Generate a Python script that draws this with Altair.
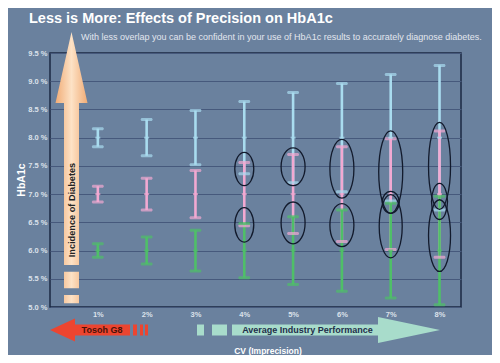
import altair as alt
import pandas as pd

# ---------------- data ----------------
cv = [1, 2, 3, 4, 5, 6, 7, 8]
cv_ticks = [1, 2, 3, 4, 5, 6, 7, 8]
y_ticks = [5.0, 5.5, 6.0, 6.5, 7.0, 7.5, 8.0, 8.5, 9.0, 9.5]

series = ["cyan", "pink", "green"]
cyan_mean = [8.0, 8.0, 8.0, 8.0, 8.0, 8.0, 8.0, 8.0]
cyan_lo = [7.84, 7.68, 7.52, 7.36, 7.20, 7.04, 6.88, 6.72]
cyan_hi = [8.16, 8.32, 8.48, 8.64, 8.80, 8.96, 9.12, 9.28]
pink_mean = [7.0, 7.0, 7.0, 7.0, 7.0, 7.0, 7.0, 7.0]
pink_lo = [6.86, 6.72, 6.58, 6.44, 6.30, 6.16, 6.02, 5.88]
pink_hi = [7.14, 7.28, 7.42, 7.56, 7.70, 7.84, 7.98, 8.12]
green_mean = [6.0, 6.0, 6.0, 6.0, 6.0, 6.0, 6.0, 6.0]
green_lo = [5.88, 5.76, 5.64, 5.52, 5.40, 5.28, 5.16, 5.04]
green_hi = [6.12, 6.24, 6.36, 6.48, 6.60, 6.72, 6.84, 6.96]

# overlap ellipses: position, vertical extent (data), width (px)
ell_cv = [4, 4, 5, 5, 6, 6, 7, 7, 7, 8, 8, 8]
ell_lo = [7.15, 6.15, 7.15, 6.12, 6.93, 6.07, 6.66, 6.66, 5.87, 6.73, 6.55, 5.63]
ell_hi = [7.74, 6.76, 7.82, 6.86, 7.97, 6.83, 8.12, 7.05, 6.99, 8.27, 7.19, 6.90]
ell_w = [19, 19, 24, 24, 24, 24, 24, 17, 23, 22, 16, 22]

title_text = "Less is More: Effects of Precision on HbA1c"
subtitle_text = ("With less overlap you can be confident in your use of HbA1c "
                 "results to accurately diagnose diabetes.")

# ---------------- tables ----------------
rows = []
for name, m, lo, hi in [("cyan", cyan_mean, cyan_lo, cyan_hi),
                        ("pink", pink_mean, pink_lo, pink_hi),
                        ("green", green_mean, green_lo, green_hi)]:
    for i, c in enumerate(cv):
        rows.append({"cv": c, "series": name, "mean": m[i], "lo": lo[i], "hi": hi[i]})
df = pd.DataFrame(rows)

W, H = 411, 254
Y_DOM = [5.0, 9.5]
X_DOM = [0.02, 8.44]
px_per_unit = H / (Y_DOM[1] - Y_DOM[0])

ell = pd.DataFrame({"cv": ell_cv, "lo": ell_lo, "hi": ell_hi, "w": ell_w})
ell["mid"] = (ell["lo"] + ell["hi"]) / 2
def ellipse_path(rx, ry):
    return (f"M{-rx:.2f},0 A{rx:.2f},{ry:.2f} 0 1,0 {rx:.2f},0 "
            f"A{rx:.2f},{ry:.2f} 0 1,0 {-rx:.2f},0 Z")
ell["path"] = [ellipse_path(w / 2, (h - l) / 2 * px_per_unit)
               for w, l, h in zip(ell["w"], ell["lo"], ell["hi"])]

color_scale = alt.Scale(domain=series, range=["#a9dcef", "#f2a9d2", "#4fbf68"])
mean_scale = alt.Scale(domain=series, range=["#e6f6fc", "#fbe3f0", "#b9ecc4"])

xs = alt.Scale(domain=X_DOM, nice=False, zero=False)
ys = alt.Scale(domain=Y_DOM, nice=False, zero=False)

x_axis = alt.Axis(values=cv_ticks, labelExpr="datum.value + '%'", grid=False,
                  domain=False, ticks=False, labelPadding=3, title=None,
                  labelOverlap=False)
y_axis = alt.Axis(values=y_ticks, labelExpr="format(datum.value, '.1f') + ' %'",
                  grid=True, gridColor="#46597c", gridWidth=1, domain=False,
                  ticks=False, labelPadding=3, title=None, labelOverlap=False)

def X(f):
    return alt.X(f, scale=xs, axis=x_axis)

def Y(f):
    return alt.Y(f, scale=ys, axis=y_axis)

base = alt.Chart(df)

bars = base.mark_rule(strokeWidth=2.6).encode(
    x=X("cv:Q"), y=Y("lo:Q"), y2="hi:Q",
    color=alt.Color("series:N", scale=color_scale, legend=None),
)
caps_lo = base.mark_tick(orient="horizontal", size=12, thickness=3, cornerRadius=1.5).encode(
    x=X("cv:Q"), y=Y("lo:Q"),
    color=alt.Color("series:N", scale=color_scale, legend=None),
)
caps_hi = base.mark_tick(orient="horizontal", size=12, thickness=3, cornerRadius=1.5).encode(
    x=X("cv:Q"), y=Y("hi:Q"),
    color=alt.Color("series:N", scale=color_scale, legend=None),
)
means = base.mark_tick(orient="horizontal", size=5, thickness=2).encode(
    x=X("cv:Q"), y=Y("mean:Q"),
    color=alt.Color("series:N", scale=mean_scale, legend=None),
)

ellipses = alt.Chart(ell).mark_point(filled=False, size=4, color="#121a2c",
                                     strokeWidth=1.3, opacity=1).encode(
    x=X("cv:Q"), y=Y("mid:Q"),
    shape=alt.Shape("path:N", scale=None),
)

one = pd.DataFrame({"t": [""]})

def deco(path, x, y, fill):
    return alt.Chart(one).mark_point(shape=path, size=4, filled=True, fill=fill,
                                     strokeWidth=0, opacity=1).encode(
        x=alt.value(x), y=alt.value(y))

def label(text, x, y, size, color, weight="bold", font="Liberation Sans",
          angle=0, align="center", baseline="middle"):
    return alt.Chart(pd.DataFrame({"t": [text]})).mark_text(
        fontSize=size, color=color, fontWeight=weight, font=font, angle=angle,
        align=align, baseline=baseline).encode(
        x=alt.value(x), y=alt.value(y), text="t:N")

orange_grad = alt.Gradient(gradient="linear", x1=0, x2=1, y1=0, y2=0,
                           stops=[alt.GradientStop(color="#f1ac76", offset=0),
                                  alt.GradientStop(color="#fde2c6", offset=0.5),
                                  alt.GradientStop(color="#f1ac76", offset=1)])
up_arrow = deco("M0,-121 L16,-50 L7.5,-50 L7.5,112 L-7.5,112 L-7.5,-50 L-16,-50 Z "
                "M-7.5,118.7 L7.5,118.7 L7.5,135.3 L-7.5,135.3 Z "
                "M-7.5,142 L7.5,142 L7.5,150.3 L-7.5,150.3 Z",
                21.5, 100, orange_grad)
red_arrow = deco("M0,0 L25,-11.5 L25,-5.5 L80,-5.5 L80,5.5 L25,5.5 L25,11.5 Z "
                 "M83,-5.5 L87,-5.5 L87,5.5 L83,5.5 Z "
                 "M90,-5.5 L93,-5.5 L93,5.5 L90,5.5 Z "
                 "M95,-5.5 L98,-5.5 L98,5.5 L95,5.5 Z",
                 0, 277, "#ec4530")
teal_arrow = deco("M147,-5.5 L154,-5.5 L154,5.5 L147,5.5 Z "
                  "M162,-5.5 L177,-5.5 L177,5.5 L162,5.5 Z "
                  "M182,-5.5 L328,-5.5 L328,-13 L390,0 L328,13 L328,5.5 L182,5.5 Z",
                  0, 277, "#a8dccb")

SANS = "Liberation Sans"
texts = [
    label(title_text, -21, -30, 14.5, "#ffffff", font=SANS, align="left",
          baseline="alphabetic"),
    label(subtitle_text, 31, -13.5, 9, "#e2e6ee", weight="normal", font=SANS,
          align="left", baseline="alphabetic"),
    label("HbA1c", -28, 127, 10.5, "#ffffff", font=SANS, angle=270),
    label("Incidence of Diabetes", 21.5, 157, 9.2, "#232323", angle=270),
    label("Tosoh G8", 52, 277, 9, "#4a1208"),
    label("Average Industry Performance", 257.5, 277, 9, "#1f2e4a"),
    label("CV (Imprecision)", 218, 298, 8.5, "#ffffff", font=SANS),
]

chart = alt.layer(bars, caps_lo, caps_hi, means, ellipses, up_arrow, red_arrow,
                  teal_arrow, *texts).properties(
    width=W, height=H,
    padding={"left": 42, "top": 45, "right": 31, "bottom": 48},
    autosize=alt.AutoSizeParams(type="none"),
    background="#6a819e",
).configure_view(stroke="#1b2843", strokeWidth=1.5).configure_axis(
    labelFont="Liberation Sans", labelFontWeight="bold", labelFontSize=7.5,
    labelColor="#dce2eb",
)

chart.save("out.html", embed_options={"renderer": "svg", "actions": False})
